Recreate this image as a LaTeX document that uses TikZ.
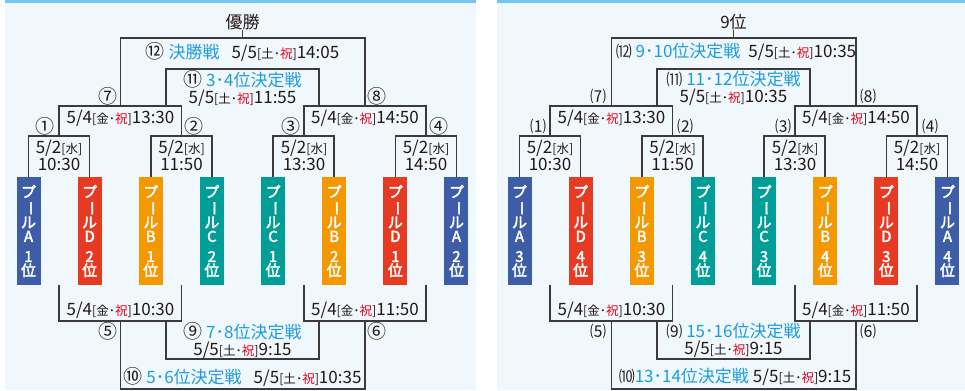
\documentclass[tikz,border=0pt]{standalone}
\usepackage{fontspec}
\usepackage{graphicx}
\setmainfont{Noto Sans CJK JP}
\newfontfamily\poolFont[FakeBold=2.5]{Noto Sans CJK JP}
\definecolor{poolColorA}{HTML}{3D5DA8}
\definecolor{poolColorB}{HTML}{F39800}
\definecolor{poolColorC}{HTML}{009E96}
\definecolor{poolColorD}{HTML}{E63A22}
\definecolor{linkColor}{HTML}{3E3A39}
\definecolor{textColor}{HTML}{231815}
\definecolor{titleColor}{HTML}{1D9BE0}
\definecolor{holidayColor}{HTML}{E60012}
\definecolor{panelBgColor}{HTML}{F0F8FD}
\definecolor{panelLineColor}{HTML}{72C7F0}
\newcommand\dayHol[1]{{\fontsize{12.5bp}{12.5bp}\selectfont[#1･\textcolor{holidayColor}{祝}]}}
\newcommand\dayWed{{\fontsize{12.5bp}{12.5bp}\selectfont[水]}}
\newcommand\gameTitle[1]{\textcolor{titleColor}{#1}}
\newcommand\gameNo[1]{{\fontsize{19bp}{19bp}\selectfont#1}}
\newcommand\gameNoP[1]{{\fontsize{16bp}{16bp}\selectfont#1}}
\newcommand\poolLabel[2]{プ\\\rotatebox[origin=c]{-90}{ー}\\ル\\#1\\[6bp]#2\\位}

\tikzset{
link/.style={draw=linkColor, line width=1.6bp},
poolBox/.style={rectangle, inner sep=0pt, minimum width=24bp, minimum height=108bp,
text=white, align=center, font=\fontsize{15bp}{14bp}\poolFont},
dateText/.style={text=textColor, align=center, inner sep=0pt,
font=\fontsize{17bp}{17bp}\selectfont},
matchNo/.style={text=textColor, inner sep=0pt, font=\fontsize{19bp}{19bp}\selectfont},
matchNoP/.style={matchNo, font=\fontsize{16bp}{16bp}\selectfont}
}

% pools: list of letter/rank
\newcommand\drawPools[1]{%
\foreach \c/\r [count=\i] in {#1} {
\node[poolBox, fill=poolColor\c] (p\i) at ({28.5+61.14*(\i-1)}, 231) {\poolLabel{\c}{\r}};
}}

% links of one panel
\newcommand\drawLinks{%
\coordinate (m1) at (59, 136);
\coordinate (m2) at (181.5, 136);
\coordinate (m3) at (304, 136);
\coordinate (m4) at (426, 136);
\coordinate (m7) at (120.5, 106);
\coordinate (m8) at (365, 106);
\coordinate (m12) at (242.5, 38);
\coordinate (l7) at (166, 106);
\coordinate (l8) at (319, 106);
\coordinate (m11) at (242.5, 69);
\coordinate (d1) at (59, 285);
\coordinate (d2) at (181.5, 285);
\coordinate (d3) at (304, 285);
\coordinate (d4) at (426, 285);
\coordinate (m5) at (120.5, 321);
\coordinate (m6) at (365, 321);
\coordinate (l5) at (166, 321);
\coordinate (l6) at (319, 321);
\coordinate (m9) at (242.5, 359);
\coordinate (m10) at (242.5, 389);
\draw[link] (p1.north) |- (m1) -| (p2.north);
\draw[link] (p3.north) |- (m2) -| (p4.north);
\draw[link] (p5.north) |- (m3) -| (p6.north);
\draw[link] (p7.north) |- (m4) -| (p8.north);
\draw[link] (m1) |- (m7) -| (m2);
\draw[link] (m3) |- (m8) -| (m4);
\draw[link] (m7) |- (m12) -| (m8);
\draw[link] (m12) -- (top.south);
\draw[link] (l7) |- (m11) -| (l8);
\draw[link] (d1) |- (m5) -| (d2);
\draw[link] (d3) |- (m6) -| (d4);
\draw[link] (l5) |- (m9) -| (l6);
\draw[link] (m5) |- (m10) -| (m6);
}

\begin{document}
\begin{tikzpicture}[x=1bp,y=-1bp]
\useasboundingbox (0,0) rectangle (965,390);

% background layer
\begin{scope}
\fill[panelBgColor] (5,0) rectangle (476,390);
\fill[panelBgColor] (497,0) rectangle (965,390);
\draw[panelLineColor, line width=2.5bp] (5,1.25) -- (476,1.25);
\draw[panelLineColor, line width=2.5bp] (497,1.25) -- (965,1.25);
\end{scope}

% left panel
\begin{scope}[name prefix=L-]
\node[dateText, anchor=south] (top) at (242.5, 30) {優勝};
\drawPools{A/1, D/2, B/1, C/2, C/1, B/2, D/1, A/2}
\drawLinks
% label layer
\node[dateText] (t12) at (242.5, 52) {\gameNo{⑫} \gameTitle{決勝戦}\hspace{12bp}5/5\dayHol{土}14:05};
\node[dateText] (t11) at (242.5, 88) {\gameNo{⑪} \gameTitle{3･4位決定戦}\\5/5\dayHol{土}11:55};
\node[dateText] (t7) at (120.5, 118) {5/4\dayHol{金}13:30};
\node[dateText] (t8) at (365, 118) {5/4\dayHol{金}14:50};
\node[dateText] (t1) at (59, 155) {5/2\dayWed\\10:30};
\node[dateText] (t2) at (181.5, 155) {5/2\dayWed\\11:50};
\node[dateText] (t3) at (304, 155) {5/2\dayWed\\13:30};
\node[dateText] (t4) at (426, 155) {5/2\dayWed\\14:50};
\node[dateText] (t5) at (120.5, 310) {5/4\dayHol{金}10:30};
\node[dateText] (t6) at (365, 310) {5/4\dayHol{金}11:50};
\node[dateText] (t9) at (242.5, 340) {\gameNo{⑨} \gameTitle{7･8位決定戦}\\5/5\dayHol{土}9:15};
\node[dateText] (t10) at (242.5, 377) {\gameNo{⑩} \gameTitle{5･6位決定戦}\hspace{12bp}5/5\dayHol{土}10:35};
% match numbers
\node[matchNo] (n1) at (45, 126) {①};
\node[matchNo] (n2) at (194, 126) {②};
\node[matchNo] (n3) at (291, 126) {③};
\node[matchNo] (n4) at (439, 126) {④};
\node[matchNo] (n7) at (108, 96) {⑦};
\node[matchNo] (n8) at (377, 96) {⑧};
\node[matchNo] (n5) at (108, 331) {⑤};
\node[matchNo] (n6) at (377, 331) {⑥};
\end{scope}

% right panel
\begin{scope}[shift={(491, 0)}, name prefix=R-]
\node[dateText, anchor=south] (top) at (242.5, 30) {9位};
\drawPools{A/3, D/4, B/3, C/4, C/3, B/4, D/3, A/4}
\drawLinks
% label layer
\node[dateText] (t12) at (245, 52) {\gameNoP{⑿} \gameTitle{9･10位決定戦}\hspace{8bp}5/5\dayHol{土}10:35};
\node[dateText] (t11) at (242.5, 88) {\gameNoP{⑾} \gameTitle{11･12位決定戦}\\5/5\dayHol{土}10:35};
\node[dateText] (t7) at (120.5, 118) {5/4\dayHol{金}13:30};
\node[dateText] (t8) at (365, 118) {5/4\dayHol{金}14:50};
\node[dateText] (t1) at (59, 155) {5/2\dayWed\\10:30};
\node[dateText] (t2) at (181.5, 155) {5/2\dayWed\\11:50};
\node[dateText] (t3) at (304, 155) {5/2\dayWed\\13:30};
\node[dateText] (t4) at (426, 155) {5/2\dayWed\\14:50};
\node[dateText] (t5) at (120.5, 310) {5/4\dayHol{金}10:30};
\node[dateText] (t6) at (365, 310) {5/4\dayHol{金}11:50};
\node[dateText] (t9) at (242.5, 340) {\gameNoP{⑼} \gameTitle{15･16位決定戦}\\5/5\dayHol{土}9:15};
\node[dateText] (t10) at (244, 377) {\gameNoP{⑽}\gameTitle{13･14位決定戦}\hspace{4bp}5/5\dayHol{土}9:15};
% match numbers
\node[matchNoP] (n1) at (47, 126) {⑴};
\node[matchNoP] (n2) at (194, 126) {⑵};
\node[matchNoP] (n3) at (292, 126) {⑶};
\node[matchNoP] (n4) at (439, 126) {⑷};
\node[matchNoP] (n7) at (107, 96) {⑺};
\node[matchNoP] (n8) at (377, 96) {⑻};
\node[matchNoP] (n5) at (107, 331) {⑸};
\node[matchNoP] (n6) at (377, 331) {⑹};
\end{scope}
\end{tikzpicture}
\end{document}
